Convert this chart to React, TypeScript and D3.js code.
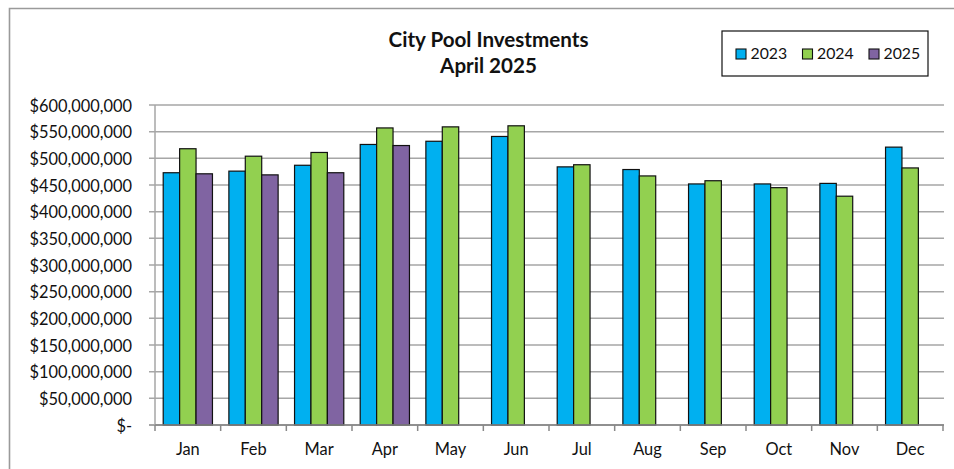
import React from "react";
import * as d3 from "d3";

const months = ["Jan", "Feb", "Mar", "Apr", "May", "Jun", "Jul", "Aug", "Sep", "Oct", "Nov", "Dec"];
const seriesNames = ["2023", "2024", "2025"];
const values2023 = [473e6, 476e6, 487e6, 526e6, 532e6, 541e6, 484e6, 479e6, 452e6, 452e6, 453e6, 521e6];
const values2024 = [518e6, 504e6, 511e6, 557e6, 559e6, 561e6, 488e6, 467e6, 458e6, 445e6, 429e6, 482e6];
const values2025 = [471e6, 469e6, 473e6, 524e6, null, null, null, null, null, null, null, null];
const colors = ["#00B0F0", "#92D050", "#8064A2"];
const yTicks = [0, 50e6, 100e6, 150e6, 200e6, 250e6, 300e6, 350e6, 400e6, 450e6, 500e6, 550e6, 600e6];
const titleLines = ["City Pool Investments", "April 2025"];

const FONT = "Lato, 'Open Sans', sans-serif";

export default function App() {
  const W = 954, H = 469;
  const left = 155, right = 943, top = 105, bottom = 425;
  const x = d3.scaleBand<string>().domain(months).range([left, right]).paddingInner(0).paddingOuter(0);
  const xs = d3.scaleBand<string>().domain(seriesNames).range([0, x.bandwidth()]).paddingInner(0).paddingOuter(0.5);
  const y = d3.scaleLinear().domain([0, 600e6]).range([bottom, top]);
  const fmt = (v: number) => (v === 0 ? "$-" : "$" + d3.format(",")(v));
  const all = [values2023, values2024, values2025];
  const boundaries = months.map((m) => x(m) as number).concat([right]);

  return (
    <svg width={W} height={H} style={{ position: "absolute", left: 0, top: 0, background: "#fff" }} fontFamily={FONT}>
      <rect x={0} y={0} width={W} height={H} fill="#fff" />
      <path d={`M9.5,${H + 5} V8.5 H${W + 5}`} fill="none" stroke="#9a9a9a" strokeWidth={1.6} />
      {/* gridlines */}
      {yTicks.map((t) => (
        <line key={"g" + t} x1={left - 6} x2={right + 1} y1={y(t)} y2={y(t)} stroke={t === 0 ? "#888" : "#A6A6A6"} strokeWidth={1.5} />
      ))}
      {/* y axis */}
      <line x1={left} x2={left} y1={top} y2={bottom} stroke="#A6A6A6" strokeWidth={1.5} />
      {yTicks.map((t) => (
        <text key={"yl" + t} x={132} y={y(t)} textAnchor="end" dominantBaseline="central" fontSize={16.4} fill="#111">
          {fmt(t)}
        </text>
      ))}
      {/* bars */}
      {all.map((vals, si) =>
        vals.map((v, i) =>
          v == null ? null : (
            <rect
              key={`b${si}-${i}`}
              x={(x(months[i]) as number) + (xs(seriesNames[si]) as number)}
              y={y(v)}
              width={xs.bandwidth()}
              height={bottom - y(v)}
              fill={colors[si]}
              stroke="#111"
              strokeWidth={1.2}
            />
          )
        )
      )}
      {/* x axis */}
      <line x1={left} x2={right + 1} y1={bottom} y2={bottom} stroke="#888" strokeWidth={1.5} />
      {boundaries.map((b, i) => (
        <line key={"xt" + i} x1={b} x2={b} y1={bottom} y2={bottom + 6} stroke="#888" strokeWidth={1.5} />
      ))}
      {months.map((m) => (
        <text key={"xl" + m} x={(x(m) as number) + x.bandwidth() / 2} y={455} textAnchor="middle" fontSize={16.4} fill="#111">
          {m}
        </text>
      ))}
      {/* title */}
      {titleLines.map((t, i) => (
        <text key={"t" + i} x={488.5} y={47 + i * 26} textAnchor="middle" fontSize={20.6} fontWeight="bold" fill="#111">
          {t}
        </text>
      ))}
      {/* legend */}
      <rect x={722} y={31} width={206} height={45} fill="#fff" stroke="#111" strokeWidth={1.2} />
      {seriesNames.map((s, i) => {
        const lx = 736 + i * 66.5;
        return (
          <g key={"lg" + s}>
            <rect x={lx} y={49} width={10} height={10} fill={colors[i]} stroke="#111" strokeWidth={1.1} />
            <text x={lx + 14.5} y={58.5} fontSize={15.8} fill="#111">
              {s}
            </text>
          </g>
        );
      })}
    </svg>
  );
}
